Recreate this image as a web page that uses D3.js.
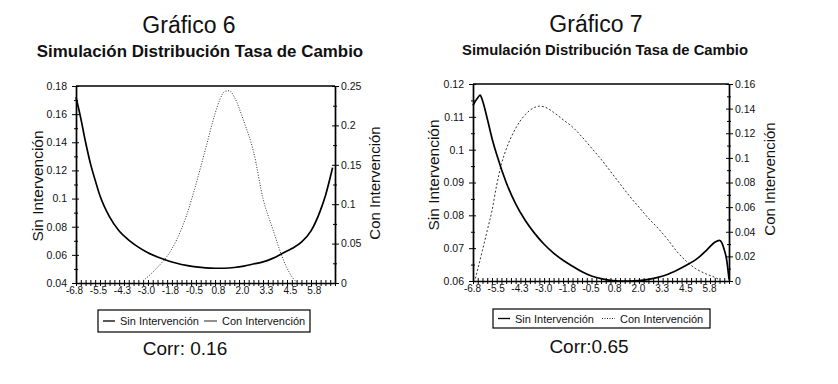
<!DOCTYPE html>
<html>
<head>
<meta charset="utf-8">
<script src="https://cdnjs.cloudflare.com/ajax/libs/d3/7.8.5/d3.min.js"></script>
<style>
body { margin: 0; background: #fff; }
svg { font-family: "Liberation Sans", Arial, sans-serif; }
</style>
</head>
<body>
<svg id="chart"></svg>
<script>
// values

// shared category axis (labels every 10th category)
const xTickVals = [-6.75, -5.5, -4.25, -3, -1.75, -0.5, 0.75, 2, 3.25, 4.5, 5.75];
const xTickLabels = ["-6.8", "-5.5", "-4.3", "-3.0", "-1.8", "-0.5", "0.8", "2.0", "3.3", "4.5", "5.8"];

// Gráfico 6
const g6SinX = [-6.75, -6.5, -6.25, -6, -5.75, -5.5, -5, -4.5, -4, -3.5, -3, -2.5, -2, -1.5, -1, -0.5, 0, 0.5, 1, 1.5, 2, 2.5, 3, 3.5, 4, 4.5, 5, 5.5, 6, 6.25, 6.5, 6.625];
const g6SinY = [0.172, 0.157, 0.140, 0.125, 0.113, 0.102, 0.087, 0.077, 0.0705, 0.0655, 0.0615, 0.0585, 0.056, 0.054, 0.0525, 0.0515, 0.0508, 0.0505, 0.0505, 0.051, 0.052, 0.0535, 0.055, 0.0575, 0.061, 0.0645, 0.069, 0.077, 0.092, 0.102, 0.115, 0.122];
const g6ConX = [-3.25, -3, -2.5, -2, -1.5, -1, -0.5, 0, 0.5, 0.75, 1, 1.25, 1.5, 2, 2.5, 3, 3.5, 4, 4.5, 4.75];
const g6ConY = [0.003, 0.008, 0.020, 0.034, 0.055, 0.085, 0.125, 0.170, 0.215, 0.233, 0.243, 0.244, 0.236, 0.205, 0.167, 0.107, 0.069, 0.033, 0.008, 0.001];
const g6LeftTicks = [0.04, 0.06, 0.08, 0.1, 0.12, 0.14, 0.16, 0.18];
const g6RightTicks = [0, 0.05, 0.1, 0.15, 0.2, 0.25];

// Gráfico 7
const g7SinX = [-6.75, -6.5, -6.375, -6.25, -6, -5.75, -5.5, -5, -4.5, -4, -3.5, -3, -2.5, -2, -1.5, -1, -0.5, 0, 0.5, 1, 1.5, 2, 2.5, 3, 3.5, 4, 4.5, 5, 5.5, 5.75, 6, 6.25, 6.375, 6.5, 6.625, 6.75];
const g7SinY = [0.1135, 0.1158, 0.1166, 0.1150, 0.1095, 0.1035, 0.0985, 0.0900, 0.0835, 0.0785, 0.0745, 0.0712, 0.0685, 0.0663, 0.0645, 0.0628, 0.0615, 0.0607, 0.0602, 0.0600, 0.0600, 0.0601, 0.0605, 0.0611, 0.0620, 0.0633, 0.0648, 0.0665, 0.0690, 0.0705, 0.0718, 0.0724, 0.0716, 0.0695, 0.0665, 0.0605];
const g7ConX = [-6.625, -6.25, -6, -5.75, -5.5, -5.25, -5, -4.5, -4, -3.5, -3.25, -3, -2.5, -2, -1.5, -1, -0.5, 0, 0.5, 1, 1.5, 2, 2.5, 3, 3.5, 4, 4.5, 5, 5.5, 6, 6.25];
const g7ConY = [0.002, 0.025, 0.041, 0.057, 0.078, 0.095, 0.107, 0.124, 0.135, 0.141, 0.142, 0.1415, 0.137, 0.131, 0.125, 0.117, 0.108, 0.099, 0.089, 0.079, 0.069, 0.060, 0.051, 0.043, 0.034, 0.024, 0.016, 0.010, 0.006, 0.003, 0.001];
const g7LeftTicks = [0.06, 0.07, 0.08, 0.09, 0.1, 0.11, 0.12];
const g7RightTicks = [0, 0.02, 0.04, 0.06, 0.08, 0.1, 0.12, 0.14, 0.16];

const seriesNames = ["Sin Intervención", "Con Intervención"];

let width = 838;
let height = 384;

const svg = d3.select('#chart').attr('width', width).attr('height', height);

const fmt = (d) => String(+d.toFixed(2));
const midpoints = (arr) => arr.slice(1).map((v, i) => (v + arr[i]) / 2);

// ticks cross the axis line, as in the scan
const crossTicks = (g, side, size) => {
    g.selectAll('.tick line').attr(side, size);
}

const styleAxis = (g) => {
    g.select('.domain').attr('stroke', '#000').attr('stroke-width', 1.4);
    g.selectAll('.tick line').attr('stroke', '#000').attr('stroke-width', 1);
    g.selectAll('.tick text').attr('fill', '#111').style('font-size', '10.5px').style('font-family', '"Liberation Sans", Arial, sans-serif');
}

const drawChart = (cfg) => {
    const g = svg.append('g');

    const xScale = d3.scaleLinear().domain([-6.75, 6.75]).range([cfg.left, cfg.right]);
    const yLeft = d3.scaleLinear().domain(cfg.leftDomain).range([cfg.bottom, cfg.top]);
    const yRight = d3.scaleLinear().domain(cfg.rightDomain).range([cfg.bottom, cfg.top]);

    // top frame line
    g.append('line').attr('x1', cfg.left).attr('x2', cfg.right)
        .attr('y1', cfg.top).attr('y2', cfg.top)
        .attr('stroke', '#000').attr('stroke-width', 1.4);

    // x axis
    const allX = d3.range(-6.75, 6.751, 0.25);
    const xAxis = d3.axisBottom(xScale).tickValues(allX).tickSizeInner(3).tickSizeOuter(0)
        .tickFormat((d) => {
            const i = xTickVals.findIndex((v) => Math.abs(v - d) < 1e-6);
            return i >= 0 ? xTickLabels[i] : '';
        });
    const gx = g.append('g').attr('transform', 'translate(0,' + cfg.bottom + ')').call(xAxis);
    styleAxis(gx);
    crossTicks(gx, 'y1', -3);
    gx.selectAll('.tick text').attr('y', 4).style('font-size', '10px').attr('dx', cfg.labelShift);

    // left axis
    const gl = g.append('g').attr('transform', 'translate(' + cfg.left + ',0)')
        .call(d3.axisLeft(yLeft).tickValues(cfg.leftTicks).tickFormat(fmt).tickSizeInner(4).tickSizeOuter(0).tickPadding(5));
    styleAxis(gl);
    crossTicks(gl, 'x1', 3);
    const glm = g.append('g').attr('transform', 'translate(' + cfg.left + ',0)')
        .call(d3.axisLeft(yLeft).tickValues(midpoints(cfg.leftTicks)).tickFormat('').tickSizeInner(2).tickSizeOuter(0));
    styleAxis(glm);
    crossTicks(glm, 'x1', 2);

    // right axis
    const gr = g.append('g').attr('transform', 'translate(' + cfg.right + ',0)')
        .call(d3.axisRight(yRight).tickValues(cfg.rightTicks).tickFormat(fmt).tickSizeInner(4).tickSizeOuter(0).tickPadding(2));
    styleAxis(gr);
    crossTicks(gr, 'x1', -3);
    const grm = g.append('g').attr('transform', 'translate(' + cfg.right + ',0)')
        .call(d3.axisRight(yRight).tickValues(midpoints(cfg.rightTicks)).tickFormat('').tickSizeInner(2).tickSizeOuter(0));
    styleAxis(grm);
    crossTicks(grm, 'x1', -2);

    // lines
    const sinLine = d3.line().x((d) => xScale(d[0])).y((d) => yLeft(d[1])).curve(d3.curveMonotoneX);
    const conLine = d3.line().x((d) => xScale(d[0])).y((d) => yRight(d[1])).curve(d3.curveMonotoneX);

    g.append('path').datum(d3.zip(cfg.conX, cfg.conY)).attr('d', conLine)
        .attr('fill', 'none').attr('stroke', '#333').attr('stroke-width', 1)
        .attr('stroke-dasharray', cfg.conDash);
    g.append('path').datum(d3.zip(cfg.sinX, cfg.sinY)).attr('d', sinLine)
        .attr('fill', 'none').attr('stroke', '#000').attr('stroke-width', 1.7);

    // titles
    g.append('text').attr('x', cfg.titleX).attr('y', cfg.titleY).attr('text-anchor', 'middle')
        .style('font-size', '23px').attr('fill', '#111').text(cfg.title);
    g.append('text').attr('x', cfg.subX).attr('y', cfg.subY).attr('text-anchor', 'middle')
        .style('font-size', cfg.subSize + 'px').style('font-weight', 'bold').attr('fill', '#111')
        .text('Simulación Distribución Tasa de Cambio');

    g.append('text').attr('transform', 'translate(' + cfg.leftTitleX + ',' + cfg.leftTitleY + ') rotate(-90)')
        .attr('text-anchor', 'middle').style('font-size', '15.5px').attr('fill', '#111').text(seriesNames[0]);
    g.append('text').attr('transform', 'translate(' + cfg.rightTitleX + ',' + cfg.rightTitleY + ') rotate(-90)')
        .attr('text-anchor', 'middle').style('font-size', '15px').attr('fill', '#111').text(seriesNames[1]);

    // legend
    const lg = cfg.legend;
    g.append('rect').attr('x', lg.x).attr('y', lg.y).attr('width', lg.w).attr('height', lg.h)
        .attr('fill', '#fff').attr('stroke', '#000').attr('stroke-width', 1.2);
    g.append('line').attr('x1', lg.x + 5).attr('x2', lg.x + 17).attr('y1', lg.y + lg.h / 2).attr('y2', lg.y + lg.h / 2)
        .attr('stroke', '#000').attr('stroke-width', 1.3);
    g.append('text').attr('x', lg.x + 22).attr('y', lg.y + lg.h / 2 + 4).style('font-size', '11px').attr('fill', '#111').text(seriesNames[0]);
    g.append('line').attr('x1', lg.x + lg.second).attr('x2', lg.x + lg.second + 13).attr('y1', lg.y + lg.h / 2).attr('y2', lg.y + lg.h / 2)
        .attr('stroke', '#222').attr('stroke-width', 1).attr('stroke-dasharray', lg.dash);
    g.append('text').attr('x', lg.x + lg.second + 18).attr('y', lg.y + lg.h / 2 + 4).style('font-size', '11px').attr('fill', '#111').text(seriesNames[1]);

    g.append('text').attr('x', cfg.corrX).attr('y', cfg.corrY).attr('text-anchor', 'middle')
        .style('font-size', '19px').attr('fill', '#111').text(cfg.corr);
}

drawChart({
    left: 76, right: 335, top: 86, bottom: 283,
    leftDomain: [0.04, 0.18], rightDomain: [0, 0.25],
    leftTicks: g6LeftTicks, rightTicks: g6RightTicks,
    sinX: g6SinX, sinY: g6SinY, conX: g6ConX, conY: g6ConY,
    conDash: '1,1.6', labelShift: -2,
    title: 'Gráfico 6', titleX: 189, titleY: 33,
    subX: 200, subY: 57, subSize: 16.9,
    leftTitleX: 43, leftTitleY: 186, rightTitleX: 380, rightTitleY: 183,
    legend: { x: 98, y: 310, w: 212, h: 22, second: 106, dash: null },
    corr: 'Corr: 0.16', corrX: 185, corrY: 355
});

drawChart({
    left: 473, right: 729, top: 84, bottom: 281,
    leftDomain: [0.06, 0.12], rightDomain: [0, 0.16],
    leftTicks: g7LeftTicks, rightTicks: g7RightTicks,
    sinX: g7SinX, sinY: g7SinY, conX: g7ConX, conY: g7ConY,
    conDash: '2,2', labelShift: -1,
    title: 'Gráfico 7', titleX: 596, titleY: 32,
    subX: 605, subY: 55, subSize: 14.8,
    leftTitleX: 439, leftTitleY: 175, rightTitleX: 775, rightTitleY: 179,
    legend: { x: 493, y: 309, w: 217, h: 19, second: 109, dash: '1,1.5' },
    corr: 'Corr:0.65', corrX: 589, corrY: 353
});
</script>
</body>
</html>
